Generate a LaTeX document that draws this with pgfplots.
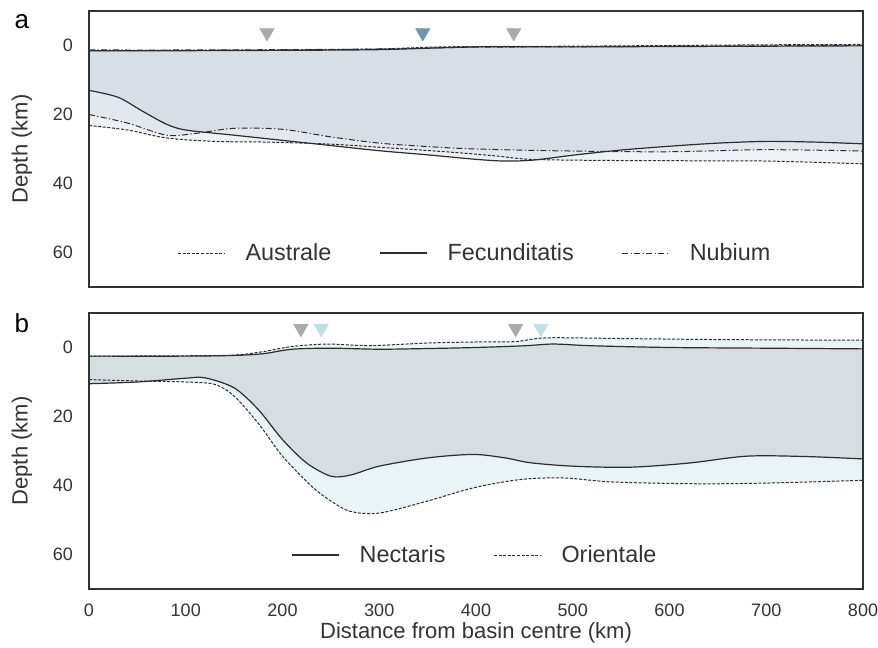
\documentclass[border=0pt]{standalone}
\usepackage{pgfplots}
\pgfplotsset{compat=1.18}
\usepgfplotslibrary{fillbetween}
\usepackage{fontspec}
\setmainfont{Liberation Sans}

\definecolor{lineGray}{RGB}{45,45,45}
\definecolor{fillA}{RGB}{150,170,190}
\definecolor{fillNect}{RGB}{215,222,226}
\definecolor{fillOri}{RGB}{233,244,247}
\definecolor{triGray}{RGB}{170,170,170}
\definecolor{triBlue}{RGB}{110,152,172}
\definecolor{triCyan}{RGB}{190,224,230}

\pgfplotsset{
  panel/.style={
    width=387pt, height=138pt, scale only axis,
    xmin=0, xmax=800, ymin=-10, ymax=70, y dir=reverse,
    ytick={0,20,40,60}, xtick={0,100,...,800},
    major tick length=0pt, clip=false,
    axis line style={line width=1pt, color=black!80},
    tick label style={font=\fontsize{9}{10}\selectfont, text=black!80},
    yticklabel style={xshift=-4.5pt},
    xticklabel style={yshift=-4pt},
    /pgf/number format/assume math mode=true,
    ylabel={Depth (km)},
    label style={font=\fontsize{11}{13}\selectfont, text=black!80},
    ylabel style={at={(axis description cs:-0.0866,0.5)}, anchor=center},
    xlabel style={at={(axis description cs:0.5,-0.16)}, anchor=center},
    axis on top,
    legend style={at={(0.5,0.123)}, anchor=center, draw=none, fill=none,
      font=\fontsize{11.7}{14}\selectfont, text=black!80,
      /tikz/every even column/.append style={column sep=22pt},
      /tikz/every odd column/.append style={column sep=8pt}},
    legend columns=-1,
    legend image code/.code={\draw[##1] (0pt,0pt) -- (23.5pt,0pt);},
  },
  dashA/.style={line width=0.5pt, color=lineGray, dash pattern=on 1.5pt off 0.8pt},
  solidA/.style={line width=0.6pt, color=lineGray},
  dashdotA/.style={line width=0.5pt, color=lineGray, dash pattern=on 3pt off 1.2pt on 0.6pt off 1.2pt},
  hid/.style={draw=none, smooth, forget plot},
  tri/.style={only marks, color=#1, mark=triangle*, mark size=4pt, mark options={rotate=180, draw=#1, fill=#1}, forget plot},
}

% panel a data
\pgfplotstableread{
x y
0 1.5
100 1.4
200 1.3
300 1.0
350 0.5
400 0.3
500 0.2
600 0
700 -0.2
800 -0.3
}\surfAustrale
\pgfplotstableread{
x y
0 1.5
100 1.5
200 1.4
300 1.2
400 0.4
500 0.4
600 0.3
700 0.2
800 0.1
}\surfFecund
\pgfplotstableread{
x y
0 1.3
100 1.3
200 1.2
300 1.0
400 0.5
500 0.4
600 0.2
700 0.1
800 -0.1
}\surfNubium
\pgfplotstableread{
x y
0 23.2
40 24.5
80 26.8
130 27.8
184 28
250 28.6
300 29.5
373 30.9
420 32
456 33
525 33.3
600 33.4
700 33.5
800 34.3
}\mohoAustrale
\pgfplotstableread{
x y
0 13
30 15
55 19
80 22.8
100 24.5
150 26
200 27.5
250 29
300 30.5
350 31.7
400 33
430 33.5
460 33.2
500 31.8
550 30.3
600 29.2
650 28.3
700 27.8
750 28
800 28.5
}\mohoFecund
\pgfplotstableread{
x y
0 20
40 22.5
80 26
110 25.5
150 24
200 24.3
250 26.5
300 28.3
350 29.3
400 30
500 30.6
600 30.8
700 30.2
800 30.6
}\mohoNubium
% panel b data
\pgfplotstableread{
x y
0 2.5
100 2.5
150 2.3
180 1.8
210 0.5
250 0.2
300 0.5
350 0.3
400 0
450 -0.5
480 -1
520 -0.5
600 0
700 0.2
800 0.4
}\surfNectaris
\pgfplotstableread{
x y
0 2.5
100 2.4
150 2.2
180 1.2
210 -0.3
245 -1
280 -0.6
300 -0.6
350 -1.3
400 -1.6
440 -1.7
473 -2.8
550 -2.6
650 -2.3
800 -2.1
}\surfOrientale
\pgfplotstableread{
x y
0 10.5
50 10
100 8.9
120 8.8
150 11.7
175 18
200 26.7
225 33.5
250 37.3
270 37
300 34.4
350 32
397 31
430 32
456 33.4
500 34.4
559 34.7
620 33.5
680 31.5
740 31.6
800 32.3
}\mohoNectaris
\pgfplotstableread{
x y
0 9.3
50 9.7
100 10
130 10.7
150 14.1
175 22
200 31.5
230 40.2
250 44.5
270 47.5
300 48
350 44.5
397 40.7
445 38.3
490 37.8
542 39
628 39.5
700 39.3
800 38.5
}\mohoOrientale

\begin{document}
\begin{tikzpicture}
% ---------------- panel a ----------------
\begin{axis}[panel, name=a, xticklabels={}]
  \addplot[hid, name path=sA] table {\surfAustrale};
  \addplot[hid, name path=sF] table {\surfFecund};
  \addplot[hid, name path=sN] table {\surfNubium};
  \addplot[hid, name path=mA] table {\mohoAustrale};
  \addplot[hid, name path=mF] table {\mohoFecund};
  \addplot[hid, name path=mN] table {\mohoNubium};
  \addplot[fill=fillA, fill opacity=0.15, draw=none, forget plot] fill between[of=sA and mA];
  \addplot[fill=fillA, fill opacity=0.15, draw=none, forget plot] fill between[of=sF and mF];
  \addplot[fill=fillA, fill opacity=0.15, draw=none, forget plot] fill between[of=sN and mN];
  \addplot[dashA, smooth, forget plot] table {\surfAustrale};
  \addplot[solidA, smooth, forget plot] table {\surfFecund};
  \addplot[dashdotA, smooth, forget plot] table {\surfNubium};
  \addplot[dashA, smooth] table {\mohoAustrale};
  \addlegendentry{Australe}
  \addplot[solidA, smooth] table {\mohoFecund};
  \addlegendentry{Fecunditatis}
  \addplot[dashdotA, smooth] table {\mohoNubium};
  \addlegendentry{Nubium}
  \addplot[tri=triGray] coordinates {(184,-3.7)(439,-3.7)};
  \addplot[tri=triBlue] coordinates {(345,-3.7)};
  \node[font=\fontsize{13}{15}\selectfont, text=black] at (axis description cs:-0.0866,0.96) {a};
\end{axis}
% ---------------- panel b ----------------
\begin{axis}[panel, name=b, at={(0pt,-151pt)},
  xlabel={Distance from basin centre (km)}]
  \addplot[hid, name path=sNe] table {\surfNectaris};
  \addplot[hid, name path=sOr] table {\surfOrientale};
  \addplot[hid, name path=mNe] table {\mohoNectaris};
  \addplot[hid, name path=mOr] table {\mohoOrientale};
  \addplot[fill=fillOri, draw=none, forget plot] fill between[of=sOr and mOr];
  \addplot[fill=fillNect, draw=none, forget plot] fill between[of=sNe and mNe];
  \addplot[solidA, smooth, forget plot] table {\surfNectaris};
  \addplot[dashA, smooth, forget plot] table {\surfOrientale};
  \addplot[solidA, smooth] table {\mohoNectaris};
  \addlegendentry{Nectaris}
  \addplot[dashA, smooth] table {\mohoOrientale};
  \addlegendentry{Orientale}
  \addplot[tri=triGray] coordinates {(219,-5.5)(441,-5.5)};
  \addplot[tri=triCyan] coordinates {(240,-5.5)(467,-5.5)};
  \node[font=\fontsize{13}{15}\selectfont, text=black] at (axis description cs:-0.0866,0.964) {b};
\end{axis}
\pgfresetboundingbox
\path ([shift={(-44.5pt,5.5pt)}]a.north west) rectangle ([shift={(7.5pt,-29.5pt)}]b.south east);
\end{tikzpicture}
\end{document}
